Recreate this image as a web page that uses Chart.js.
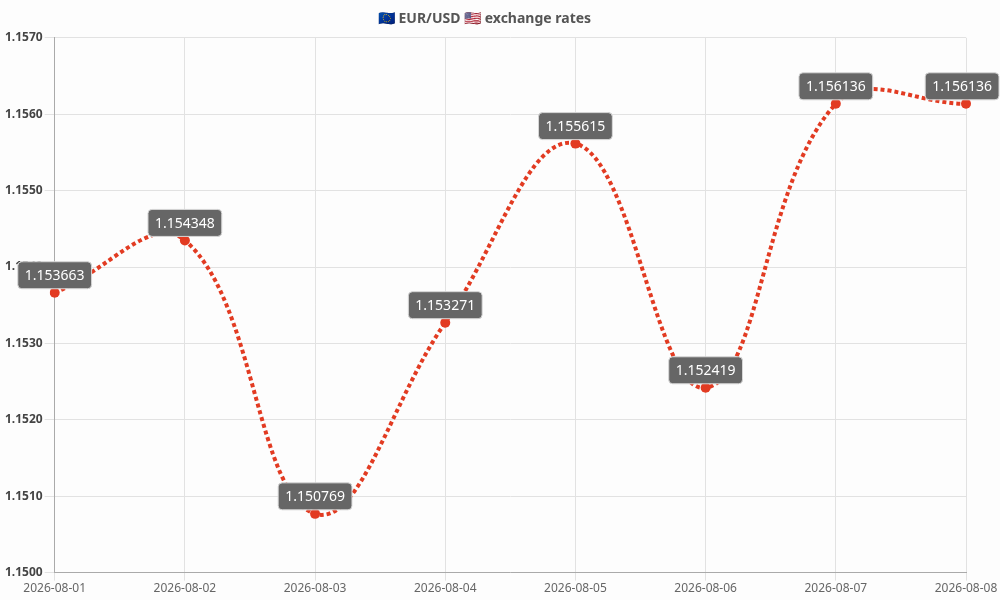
<!DOCTYPE html>
<html>
<head>
<meta charset="utf-8">
<script src="https://cdn.jsdelivr.net/npm/chart.js@4"></script>
<style>
  html, body { margin: 0; padding: 0; background: #fdfdfd; }
  #wrap { width: 1000px; height: 600px; }
</style>
</head>
<body>
<div id="wrap"><canvas id="rateChart"></canvas></div>
<script>
const dates = ['2026-08-01', '2026-08-02', '2026-08-03', '2026-08-04', '2026-08-05', '2026-08-06', '2026-08-07', '2026-08-08'];
const rates = [1.153663, 1.154348, 1.150769, 1.153271, 1.155615, 1.152419, 1.156136, 1.156136];
const yMin = 1.15;
const yMax = 1.157;

// draws the value boxes above each point
const valueBoxes = {
    id: 'valueBoxes',
    afterDatasetsDraw(chart) {
        const ctx = chart.ctx;
        const meta = chart.getDatasetMeta(0);
        ctx.save();
        ctx.font = '14px "Noto Sans"';
        ctx.textAlign = 'center';
        ctx.textBaseline = 'middle';
        meta.data.forEach((pt, i) => {
            const text = rates[i].toFixed(6);
            const w = ctx.measureText(text).width + 14;
            const h = 27;
            let cx = pt.x;
            if (cx + w / 2 > chart.width - 1) cx = chart.width - 1 - w / 2;
            const top = pt.y - 4 - h;
            ctx.beginPath();
            ctx.roundRect(cx - w / 2, top, w, h, 4);
            ctx.fillStyle = '#666666';
            ctx.fill();
            ctx.strokeStyle = '#d8d8d8';
            ctx.lineWidth = 1;
            ctx.stroke();
            ctx.fillStyle = '#ffffff';
            ctx.fillText(text, cx, top + h / 2 + 1);
        });
        ctx.restore();
    }
};

document.addEventListener("DOMContentLoaded", () => {
    new Chart(document.getElementById('rateChart').getContext('2d'), {
        type: 'line',
        data: {
            labels: dates,
            datasets: [{
                label: 'EUR/USD',
                data: rates,
                borderColor: '#e23b22',
                backgroundColor: '#e23b22',
                borderWidth: 4,
                borderDash: [4, 3],
                pointRadius: 5,
                pointBorderWidth: 0,
                tension: 0.4,
                fill: false,
            }]
        },
        options: {
            responsive: true,
            maintainAspectRatio: false,
            animation: false,
            layout: { padding: { left: 3, right: 34, top: 3, bottom: 3 } },
            plugins: {
                legend: { display: false },
                tooltip: { enabled: false },
                title: {
                    display: true,
                    text: '🇪🇺 EUR/USD 🇺🇸 exchange rates',
                    color: '#555',
                    font: { family: '"Noto Sans", "DejaVu Sans"', size: 14, weight: 'bold' },
                    padding: { top: 8, bottom: 10 }
                }
            },
            scales: {
                x: {
                    offset: false,
                    grid: { color: '#e2e2e2', tickLength: 8 },
                    border: { color: '#aaa' },
                    ticks: { color: '#666', font: { family: '"Noto Sans"', size: 12 }, maxRotation: 0, padding: 1 }
                },
                y: {
                    min: yMin,
                    max: yMax,
                    grid: { color: '#e2e2e2', tickLength: 10 },
                    border: { color: '#aaa' },
                    ticks: {
                        stepSize: 0.001,
                        color: '#444',
                        font: { family: '"Noto Sans"', size: 12, weight: 'bold' },
                        padding: 2,
                        callback: v => v.toFixed(4)
                    }
                }
            }
        },
        plugins: [valueBoxes]
    });
});
</script>
</body>
</html>
